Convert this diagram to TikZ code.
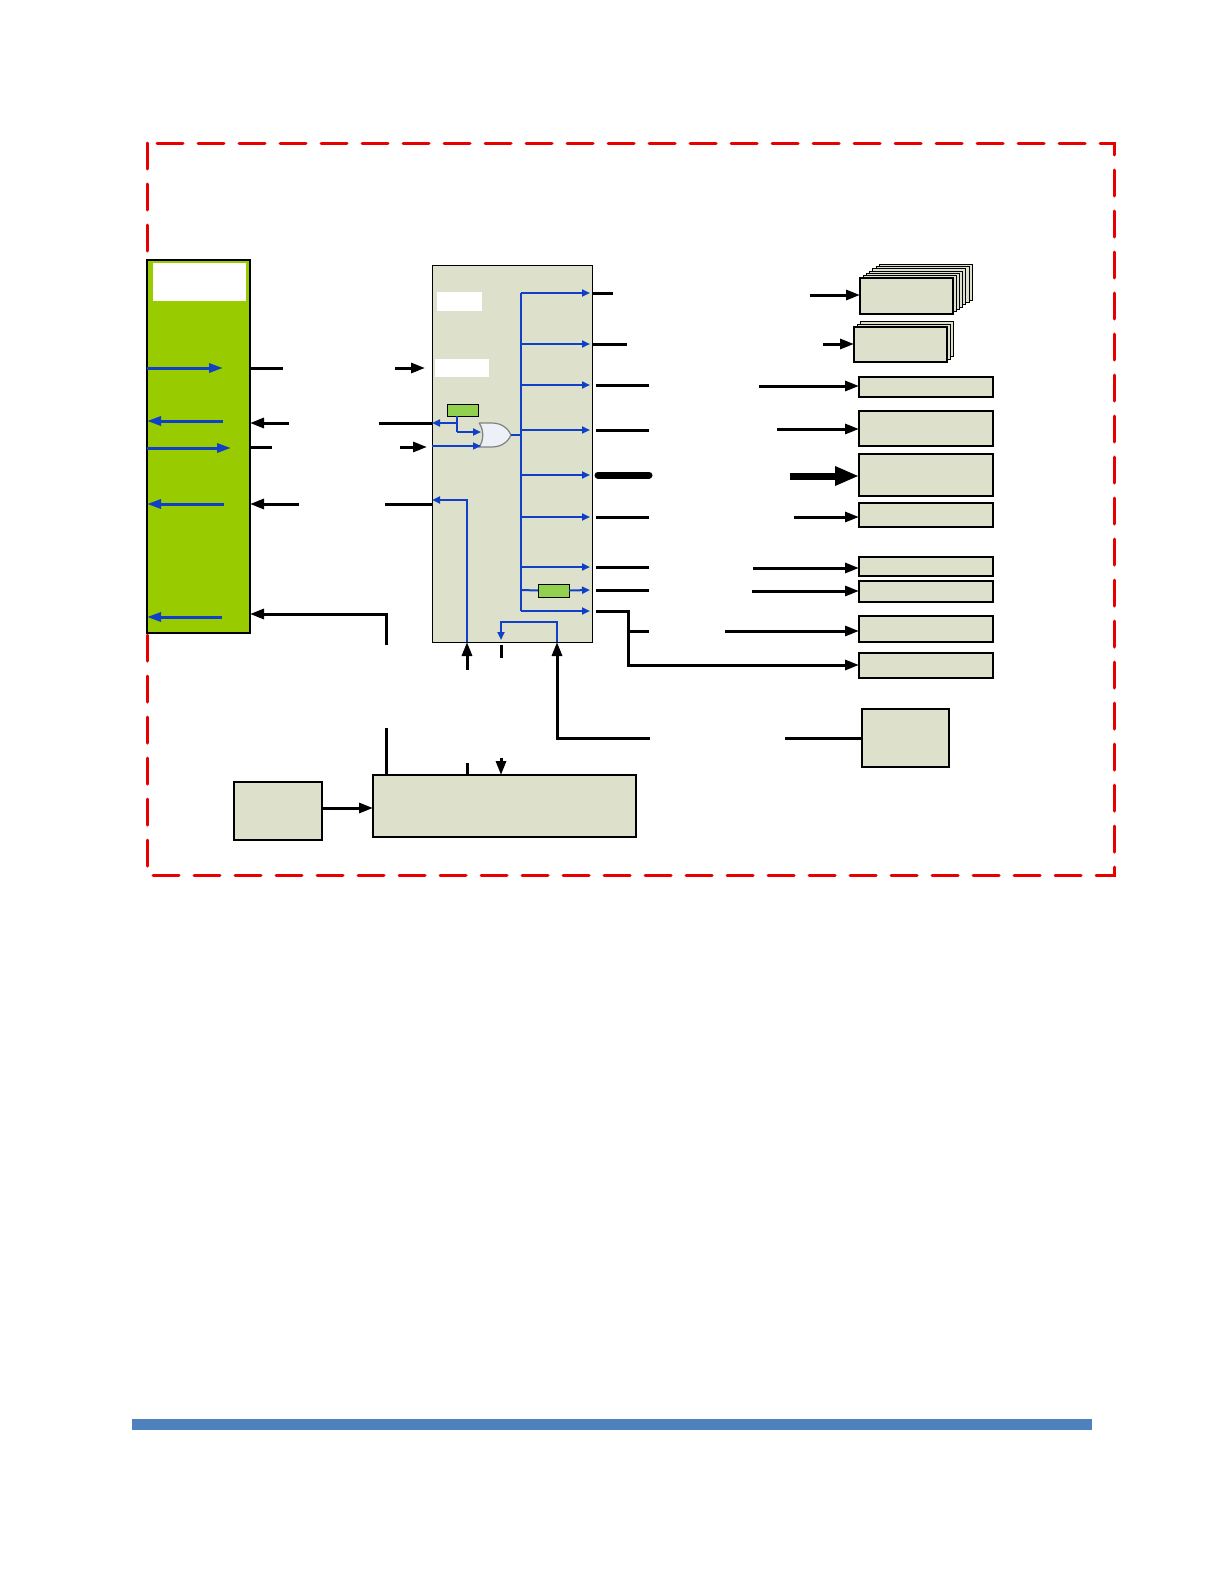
\documentclass[tikz,border=0pt]{standalone}
\usetikzlibrary{arrows.meta}

\definecolor{boxfill}{RGB}{221,225,203}
\definecolor{kvmgreen}{RGB}{153,204,0}
\definecolor{regreen}{RGB}{146,208,80}
\definecolor{sigblue}{RGB}{16,64,200}
\definecolor{framered}{RGB}{232,0,0}
\definecolor{barblue}{RGB}{79,129,189}
\definecolor{gatefill}{RGB}{238,240,248}

\begin{document}
\begin{tikzpicture}
[
	x=0.5pt,y=-0.5pt,
	blk/.style={draw,fill=boxfill,inner sep=0pt,outer sep=0pt,line width=0.6pt},
	lbl/.style={fill=white,inner sep=0pt,outer sep=0pt},
	regbox/.style={draw,fill=regreen,inner sep=0pt,outer sep=0pt,line width=0.5pt},
	wire/.style={line width=1.5pt},
	sig/.style={line width=1.5pt,-{Triangle[length=7pt,width=5pt]}},
	fatsig/.style={line width=3.5pt,-{Triangle[length=12pt,width=9pt]}},
	bsig/.style={sigblue,line width=1.5pt,-{Triangle[length=7pt,width=4.5pt]}},
	bbus/.style={sigblue,line width=1pt},
	btap/.style={sigblue,line width=1pt,-{Triangle[length=4pt,width=3.5pt]}}
]

	\useasboundingbox (0,0) rectangle (1224,1584);

	% frame and page rule
	\draw[framered,line width=1.5pt,line cap=round,dash pattern=on 13pt off 7.5pt]
	  (147,143) rectangle (1114,875);
	\fill[barblue] (132,1419) rectangle (1092,1430);

	% left block
	\node[draw,fill=kvmgreen,inner sep=0pt,outer sep=0pt,line width=0.6pt,
	  minimum width=51.5pt,minimum height=186.5pt] (kvm) at (198.5,446.5) {};
	\node[lbl,minimum width=46.5pt,minimum height=19pt] (kvmlbl) at (199.5,282) {};

	% main block
	\node[blk,line width=0.5pt,minimum width=80pt,minimum height=188.5pt] (main) at (512,453.5) {};
	\node[lbl,minimum width=22.5pt,minimum height=9.5pt] (mainlbl) at (459.5,301.5) {};
	\node[lbl,minimum width=27pt,minimum height=9pt] (sublbl) at (462,368) {};
	\node[regbox,minimum width=15.5pt,minimum height=6pt] (regA) at (462.5,410) {};
	\node[regbox,minimum width=15.5pt,minimum height=6.5pt] (regB) at (553.5,590.5) {};

	% or gate
	\draw[gray,fill=gatefill,line width=0.6pt]
	  (479,423) -- (492,423) .. controls (503,423) and (509,430) .. (511,435)
	  .. controls (509,440) and (503,447) .. (492,447) -- (479,447)
	  .. controls (484,441) and (484,429) .. (479,423);
	\coordinate (orinA) at (481,432);
	\coordinate (orinB) at (481,446);
	\coordinate (orout) at (511,435);

	% stacked targets
	\foreach \k in {6,...,1}
	  \node[blk,line width=0.5pt,minimum width=46.5pt,minimum height=18pt] at (906.5+3.2*\k,296-2.3*\k) {};
	\node[blk,minimum width=46.5pt,minimum height=18pt] (rA) at (906.5,296) {};
	\foreach \k in {2,1}
	  \node[blk,line width=0.5pt,minimum width=46.5pt,minimum height=17.5pt] at (900.5+3*\k,344.5-3*\k) {};
	\node[blk,minimum width=46.5pt,minimum height=17.5pt] (rB) at (900.5,344.5) {};

	% right targets
	\node[blk,minimum width=67pt,minimum height=10pt] (rC) at (926,387) {};
	\node[blk,minimum width=67pt,minimum height=17.5pt] (rD) at (926,428.5) {};
	\node[blk,minimum width=67pt,minimum height=21pt] (rE) at (926,475) {};
	\node[blk,minimum width=67pt,minimum height=12pt] (rF) at (926,515) {};
	\node[blk,minimum width=67pt,minimum height=9.5pt] (rG) at (926,566.5) {};
	\node[blk,minimum width=67pt,minimum height=10.5pt] (rH) at (926,591.5) {};
	\node[blk,minimum width=67pt,minimum height=13pt] (rI) at (926,629) {};
	\node[blk,minimum width=67pt,minimum height=12.5pt] (rJ) at (926,665.5) {};
	\node[blk,minimum width=43.5pt,minimum height=29pt] (rK) at (905.5,738) {};

	% bottom blocks
	\node[blk,minimum width=131.5pt,minimum height=31pt] (ctrl) at (504.5,806) {};
	\node[blk,minimum width=44pt,minimum height=29pt] (src) at (278,811) {};

	% signals inside left block
	\draw[bsig] (kvm.west |- 0,368) -- (223,368);
	\draw[bsig] (223,421) -- (kvm.west |- 0,421);
	\draw[bsig] (kvm.west |- 0,448) -- (231,448);
	\draw[bsig] (224,504) -- (kvm.west |- 0,504);
	\draw[bsig] (222,617) -- (kvm.west |- 0,617);

	% left block <-> main block
	\draw[wire] (kvm.east |- 0,368) -- (283,368);
	\draw[sig] (395,368) -- (425,368);
	\draw[sig] (289,423) -- (kvm.east |- 0,423);
	\draw[wire] (379,423) -- (main.west |- 0,423);
	\draw[wire] (kvm.east |- 0,447) -- (272,447);
	\draw[sig] (400,447) -- (427,447);
	\draw[sig] (299,504) -- (kvm.east |- 0,504);
	\draw[wire] (385,504) -- (main.west |- 0,504);
	\draw[sig] (386,645) -- (386,614) -- (kvm.east |- 0,614);
	\draw[wire] (386,728) -- (386,0 |- ctrl.north);

	% inside main block
	\draw[bbus] (457,0 |- regA.south) -- (457,432);
	\draw[btap] (457,432) -- (orinA);
	\draw[btap] (457,423) -- (main.west |- 0,423);
	\draw[btap,line width=0.6pt] (main.west |- 0,446) -- (orinB);
	\draw[bbus] (orout) -- (521,435);
	\draw[bbus] (521,293) -- (521,611);
	\foreach \yy in {293,344,385,430,475,517,567,611}
	  \draw[btap] (521,\yy) -- (590,\yy);
	\draw[bbus] (521,590) -- (regB.west);
	\draw[btap] (regB.east) -- (590,590);
	\draw[btap] (467,0 |- main.south) -- (467,500) -- (main.west |- 0,500);
	\draw[btap] (557,0 |- main.south) -- (557,622) -- (501,622) -- (501,640);

	% main block -> right targets
	\draw[wire] (main.east |- 0,293) -- (613,293);
	\draw[sig] (810,295) -- (rA.west |- 0,295);
	\draw[wire] (main.east |- 0,344) -- (627,344);
	\draw[sig] (823,344) -- (rB.west |- 0,344);
	\draw[wire] (596,385) -- (649,385);
	\draw[sig] (759,386) -- (rC.west |- 0,386);
	\draw[wire] (596,430) -- (649,430);
	\draw[sig] (777,429) -- (rD.west |- 0,429);
	\draw[wire,line width=3.5pt,line cap=round] (598,475) -- (649,475);
	\draw[fatsig] (790,476) -- (rE.west |- 0,476);
	\draw[wire] (596,517) -- (649,517);
	\draw[sig] (794,517) -- (rF.west |- 0,517);
	\draw[wire] (596,567) -- (649,567);
	\draw[sig] (753,568) -- (rG.west |- 0,568);
	\draw[wire] (596,590) -- (649,590);
	\draw[sig] (752,591) -- (rH.west |- 0,591);
	\draw[sig] (596,611) -- (628,611) -- (628,665) -- (rJ.west |- 0,665);
	\draw[wire] (628,631) -- (649,631);
	\draw[sig] (725,631) -- (rI.west |- 0,631);
	\draw[sig] (650,738) -- (557,738) -- (557,0 |- main.south);
	\draw[wire] (785,738) -- (rK.west);

	% bottom
	\draw[sig] (src.east |- 0,808) -- (ctrl.west |- 0,808);
	\draw[sig] (467,670) -- (467,0 |- main.south);
	\draw[wire] (501,645) -- (501,658);
	\draw[wire] (467,763) -- (467,0 |- ctrl.north);
	\draw[sig] (501,758) -- (501,0 |- ctrl.north);

\end{tikzpicture}
\end{document}
